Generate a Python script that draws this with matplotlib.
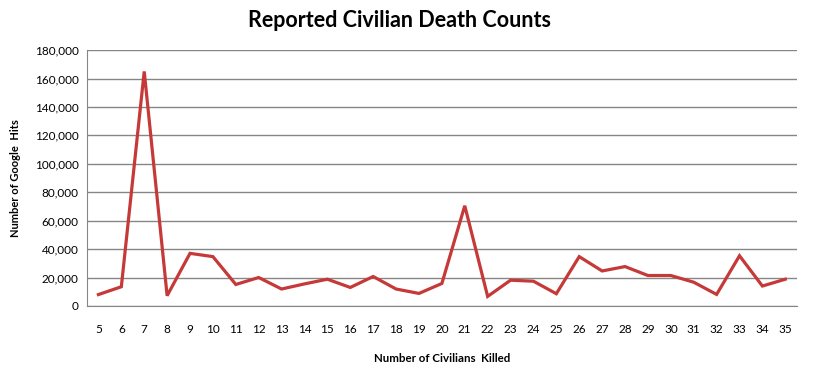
import matplotlib.pyplot as plt
import numpy as np

# data
civilians_killed = list(range(5, 36))
google_hits = [8000, 13500, 165000, 7200, 37000, 34700, 15100, 20000, 11900, 15500,
               18800, 13000, 20700, 11900, 8800, 15800, 70500, 6700, 18100, 17400,
               8600, 34700, 24600, 27700, 21400, 21400, 16700, 8100, 35300, 14000, 18800]
y_ticks = np.arange(0, 180001, 20000)

plt.rcParams['font.family'] = ['Lato', 'DejaVu Sans']

fig = plt.figure(figsize=(8.13, 3.74), dpi=100)
ax = fig.add_axes([0.107, 0.182, 0.873, 0.684])

x = np.arange(len(civilians_killed))
ax.plot(x, google_hits, color='#C53A38', linewidth=2.3, solid_joinstyle='miter')

ax.set_xlim(-0.5, len(civilians_killed) - 0.5)
ax.set_ylim(0, 180000)
ax.set_xticks(x)
ax.set_xticklabels([str(c) for c in civilians_killed])
ax.set_yticks(y_ticks)
ax.set_yticklabels(['{:,}'.format(v) for v in y_ticks])
ax.tick_params(axis='both', length=0, labelsize=8.5, colors='black')
ax.tick_params(axis='x', pad=13)
ax.tick_params(axis='y', pad=6)

ax.grid(axis='y', color='#868686', linewidth=1)
ax.set_axisbelow(True)
for side in ['top', 'right']:
    ax.spines[side].set_visible(False)
ax.spines['left'].set_color('#868686')
ax.spines['bottom'].set_color('#868686')

fig.text(0.491, 0.945, 'Reported Civilian Death Counts', fontsize=15.5,
         fontweight='bold', ha='center', va='center')
ax.set_xlabel('Number of Civilians  Killed', fontsize=8.3, fontweight='bold', labelpad=13)
ax.set_ylabel('Number of Google  Hits', fontsize=8, fontweight='bold', labelpad=10)

plt.savefig('out.png', dpi=100)
plt.close()
